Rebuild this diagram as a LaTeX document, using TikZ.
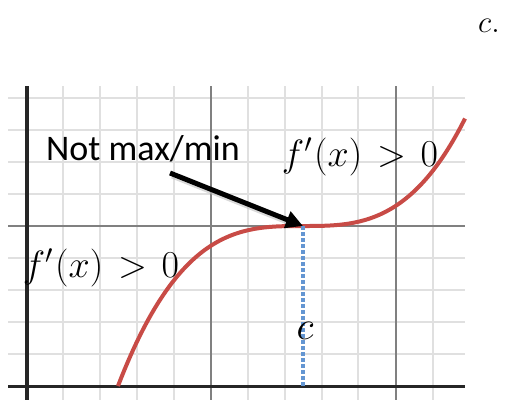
\RequirePackage{fix-cm}
\documentclass[tikz,border=0pt]{standalone}
\usepackage{fontspec}
\setmainfont{Carlito}
\usetikzlibrary{arrows.meta}
\definecolor{curvered}{RGB}{200,75,70}
\definecolor{dotblue}{RGB}{100,150,210}
\tikzset{
  minorgrid/.style={draw=black!12, line width=1.2pt},
  majorgrid/.style={draw=black!50, line width=1.6pt},
  axisline/.style={draw=black!85, line width=3pt},
  curveline/.style={draw=curvered, line width=4pt},
  dropline/.style={draw=dotblue, line width=3.8pt, dash pattern=on 4pt off 2pt},
  pointer/.style={draw=black, line width=5pt, -{Triangle[length=17pt,width=17pt]}},
  pointershadow/.style={draw=black!25, line width=5pt, opacity=0.6},
  mathlabel/.style={font=\fontsize{38}{42}\selectfont, inner sep=0pt},
  textlabel/.style={font=\fontsize{36}{40}\selectfont, inner sep=0pt}
}
\newcommand{\fpos}{$\thickmuskip=7mu f'\mskip1mu(x) > 0$}
\begin{document}
\begin{tikzpicture}[x=1pt,y=-1pt]
\useasboundingbox (0,0) rectangle (505,400);
% minor grid
\foreach \gx in {63,100,137,174,248,285,322,358,433}
  \draw[minorgrid] (\gx,86) -- (\gx,400);
\foreach \gy in {98,130,162,194,258,290,322,354}
  \draw[minorgrid] (8,\gy) -- (465,\gy);
% major grid
\foreach \gx in {211,396}
  \draw[majorgrid] (\gx,86) -- (\gx,400);
\draw[majorgrid] (8,226) -- (465,226);
% axes
\draw[axisline] (8,386) -- (465,386);
\draw[axisline, line width=3.4pt] (27,86) -- (27,400);
% curve
\draw[curveline] plot[domain=-1.85:1.62, samples=120, smooth] ({303+100*\x},{226-25.27*\x*\x*\x});
% named points
\coordinate (cpt) at (303,226);
\coordinate (cbase) at (303,386);
\coordinate (astart) at (170,173);
% drop line
\draw[dropline] (cpt) -- (cbase);
% pointer arrow with soft shadow
\draw[pointershadow, shorten >=10pt] ([shift={(2,3)}]astart) -- ([shift={(2,3)}]cpt);
\draw[pointer] (astart) -- (cpt);
% labels
\node[textlabel] (nmm) at (143,149) {Not max/min};
\node[mathlabel] (fright) at (360,157) {\fpos};
\node[mathlabel] (fleft) at (101,268) {\fpos};
\node[mathlabel, font=\fontsize{40}{44}\selectfont] (clab) at (305,331) {$c$};
\node[font=\fontsize{31}{34}\selectfont, inner sep=0pt, anchor=west] (ctop) at (478,26) {$c.$};
\end{tikzpicture}
\end{document}
